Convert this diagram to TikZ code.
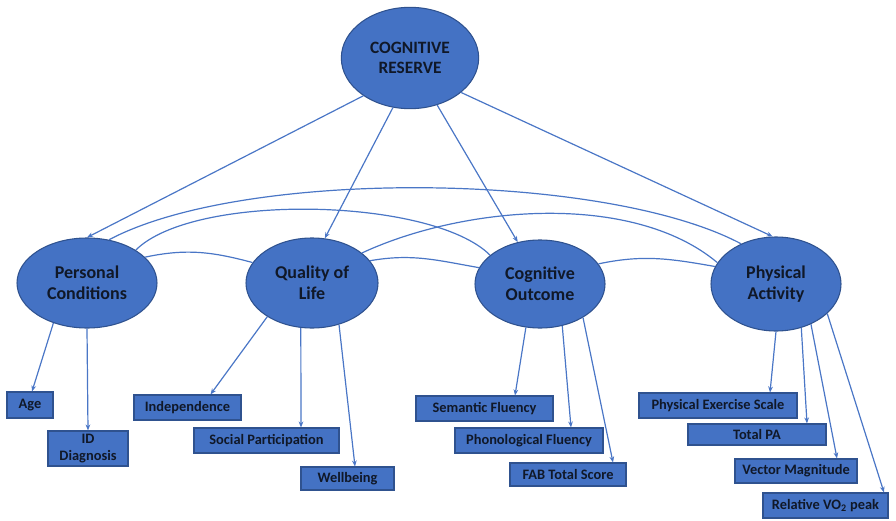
\documentclass[tikz,border=0pt]{standalone}
\usepackage{fontspec}
\setmainfont{Carlito}
\usetikzlibrary{arrows.meta,shapes.geometric,calc}
\definecolor{ofill}{HTML}{4472C4}
\definecolor{oline}{HTML}{2F528F}
\definecolor{link}{HTML}{4A76C6}
\definecolor{ink}{HTML}{101828}
\begin{document}
\begin{tikzpicture}[x=0.75pt,y=-0.75pt,
  construct/.style={ellipse,fill=ofill,draw=oline,line width=0.8pt,inner sep=0pt,
    align=center,text=ink,font=\bfseries\fontsize{13.5}{16}\selectfont},
  measure/.style={rectangle,fill=ofill,draw=oline,line width=0.8pt,inner sep=0pt,
    align=center,text=ink,font=\bfseries\fontsize{10.8}{13}\selectfont},
  path/.style={draw=link,line width=0.9pt,-{Stealth[length=4.5pt,width=3.5pt]}},
  cov/.style={draw=link,line width=0.9pt}]
\useasboundingbox (0,0) rectangle (896,521);

% latent constructs
\node[construct,minimum width=103pt,minimum height=76pt,font=\bfseries\fontsize{13}{15.5}\selectfont] (cr) at (410,58) {COGNITIVE\\RESERVE};
\node[construct,minimum width=105pt,minimum height=67.5pt] (pc) at (87,283) {Personal\\Conditions};
\node[construct,minimum width=99pt,minimum height=67.5pt] (ql) at (312,283) {Quality of\\Life};
\node[construct,minimum width=97.5pt,minimum height=66pt] (co) at (540,284) {Cognitive\\Outcome};
\node[construct,minimum width=97.5pt,minimum height=70.5pt] (pa) at (776,284) {Physical\\Activity};

% observed measures
\node[measure,minimum width=34.5pt,minimum height=19.5pt] (age) at (30,405) {Age};
\node[measure,minimum width=60pt,minimum height=26.25pt] (idd) at (88,448.5) {ID\\Diagnosis};
\node[measure,minimum width=80.25pt,minimum height=18.75pt] (ind) at (187.5,407.5) {Independence};
\node[measure,minimum width=108.75pt,minimum height=18.75pt] (sp) at (266.5,440.5) {Social Participation};
\node[measure,minimum width=69.75pt,minimum height=17.25pt] (wb) at (347.5,478.5) {Wellbeing};
\node[measure,minimum width=102.75pt,minimum height=18.75pt] (sf) at (484.5,408.5) {Semantic Fluency};
\node[measure,minimum width=111pt,minimum height=18.75pt] (pf) at (529,440.5) {Phonological Fluency};
\node[measure,minimum width=87pt,minimum height=17.25pt] (fab) at (568,474.5) {FAB Total Score};
\node[measure,minimum width=118.5pt,minimum height=18.75pt] (pes) at (718,405.5) {Physical Exercise Scale};
\node[measure,minimum width=103.5pt,minimum height=15.75pt] (tpa) at (757,434.5) {Total PA};
\node[measure,minimum width=91.5pt,minimum height=18pt] (vm) at (796,471) {Vector Magnitude};
\node[measure,minimum width=93.75pt,minimum height=18.75pt] (vo) at (825.5,505.5) {Relative VO\textsubscript{2} peak};

% reserve to constructs
\draw[path] (cr.219) -- (pc.north);
\draw[path] (cr.251) -- (ql.74);
\draw[path] (cr.300) -- (co.118);
\draw[path] (cr.326) -- (pa.94);

% correlations between constructs
\draw[cov] (pc.24) to[out=12,in=165] (ql.161);
\draw[cov] (ql.21) to[out=10,in=170] (co.165);
\draw[cov] (co.19) to[out=12,in=170] (pa.164);
\draw[cov] (pc.34) to[out=45,in=135,looseness=0.59] (co.150);
\draw[cov] (ql.31) to[out=25,in=140,looseness=0.8] (pa.160);
\draw[cov] (pc.63) to[out=28,in=152,looseness=0.62] (pa.131);

% constructs to measures
\draw[path] (pc.230) -- ($(age.north)+(2,0)$);
\draw[path] (pc.south) -- (idd.north);
\draw[path] (ql.217) -- ($(ind.north)+(23,0)$);
\draw[path] (ql.256) -- ($(sp.north)+(34.5,0)$);
\draw[path] (ql.303) -- ($(wb.north)+(7.5,0)$);
\draw[path] (co.252) -- ($(sf.north)+(30.5,0)$);
\draw[path] (co.298) -- ($(pf.north)+(42,0)$);
\draw[path] (co.322) -- ($(fab.north)+(45,0)$);
\draw[path] (pa.south) -- ($(pes.north)+(52,0)$);
\draw[path] (pa.300) -- ($(tpa.north)+(50,0)$);
\draw[path] (pa.311) -- ($(vm.north)+(41,0)$);
\draw[path] (pa.330) -- ($(vo.north)+(58.5,0)$);
\end{tikzpicture}
\end{document}
